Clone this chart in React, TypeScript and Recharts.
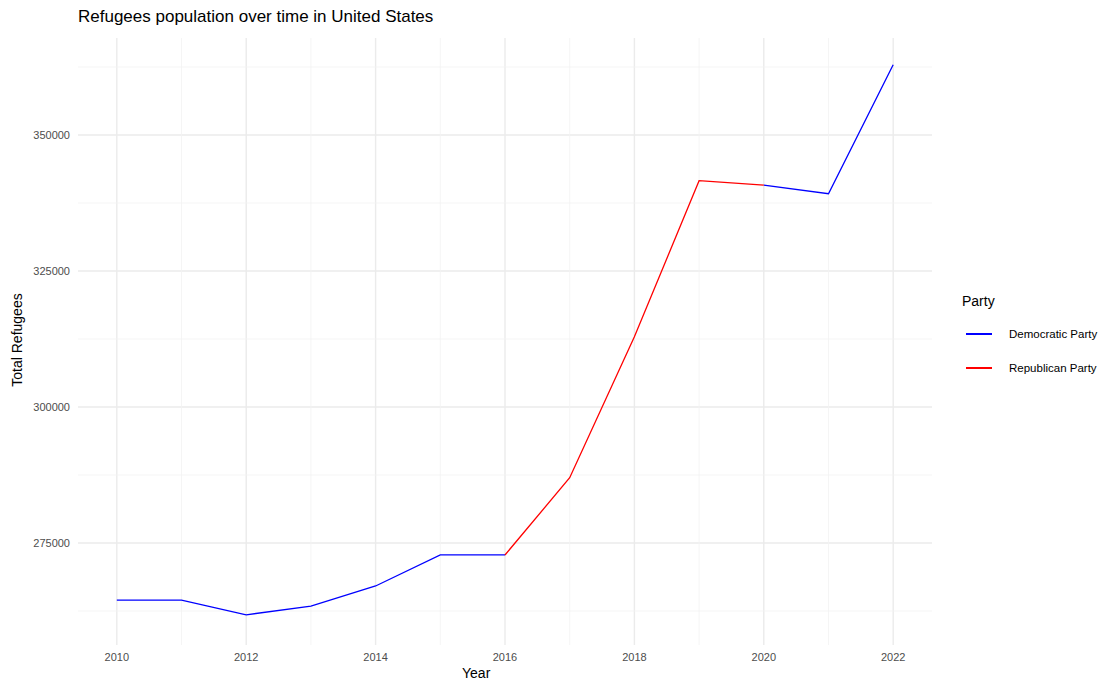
import { LineChart, Line, XAxis, YAxis, CartesianGrid, ReferenceLine } from 'recharts';

const years = [2010, 2011, 2012, 2013, 2014, 2015, 2016, 2017, 2018, 2019, 2020, 2021, 2022];
const democratic = [264500, 264500, 261800, 263400, 267100, 272800, 272800, null, null, null, 340800, 339200, 362900];
const republican = [null, null, null, null, null, null, 272800, 287000, 312900, 341600, 340800, null, null];
const yTicks = [275000, 300000, 325000, 350000];
const xTicks = [2010, 2012, 2014, 2016, 2018, 2020, 2022];
const yMinor = [262500, 287500, 312500, 337500, 362500];
const xMinor = [2011, 2013, 2015, 2017, 2019, 2021];

const data = years.map((y, i) => ({ year: y, dem: democratic[i], rep: republican[i] }));

const font = 'Liberation Sans, Arial, sans-serif';

export default function App() {
  return (
    <div style={{ position: 'absolute', left: 0, top: 0, width: 1120, height: 692, fontFamily: font, background: '#fff' }}>
      <div style={{ position: 'absolute', left: 78, top: 7, fontSize: 17, color: '#000' }}>
        Refugees population over time in United States
      </div>
      <div style={{ position: 'absolute', left: 462, top: 665, fontSize: 14, color: '#000' }}>Year</div>
      <div style={{ position: 'absolute', left: 17, top: 340, fontSize: 14, transform: 'translate(-50%,-50%) rotate(-90deg)', whiteSpace: 'nowrap' }}>
        Total Refugees
      </div>
      <div style={{ position: 'absolute', left: 962, top: 293, fontSize: 14 }}>Party</div>
      {[
        { name: 'Democratic Party', color: '#0000ff', top: 336 },
        { name: 'Republican Party', color: '#ff0000', top: 370 },
      ].map((l) => (
        <div key={l.name} style={{ position: 'absolute', left: 966, top: l.top - 8, display: 'flex', alignItems: 'center', fontSize: 11.5 }}>
          <div style={{ width: 26, height: 2, background: l.color, marginRight: 17 }} />
          <span>{l.name}</span>
        </div>
      ))}
      <LineChart width={1120} height={692} data={data} margin={{ top: 38, right: 188, left: 8, bottom: 17 }}>
        <CartesianGrid stroke="#ebebeb" strokeWidth={1.4} horizontalValues={yTicks} verticalValues={xTicks} />
        {yMinor.map((v) => (
          <ReferenceLine key={'y' + v} y={v} stroke="#f2f2f2" strokeWidth={0.8} />
        ))}
        {xMinor.map((v) => (
          <ReferenceLine key={'x' + v} x={v} stroke="#f2f2f2" strokeWidth={0.8} />
        ))}
        <XAxis
          dataKey="year"
          type="number"
          domain={[2009.4, 2022.6]}
          ticks={xTicks}
          axisLine={false}
          tickLine={false}
          height={30}
          tick={{ fontSize: 11, fill: '#4d4d4d', fontFamily: font }}
        />
        <YAxis
          type="number"
          domain={[256250, 367830]}
          ticks={yTicks}
          axisLine={false}
          tickLine={false}
          width={70}
          tick={{ fontSize: 11, fill: '#4d4d4d', fontFamily: font }}
        />
        <Line dataKey="dem" stroke="#0000ff" strokeWidth={1.3} dot={false} isAnimationActive={false} />
        <Line dataKey="rep" stroke="#ff0000" strokeWidth={1.3} dot={false} isAnimationActive={false} />
      </LineChart>
    </div>
  );
}
